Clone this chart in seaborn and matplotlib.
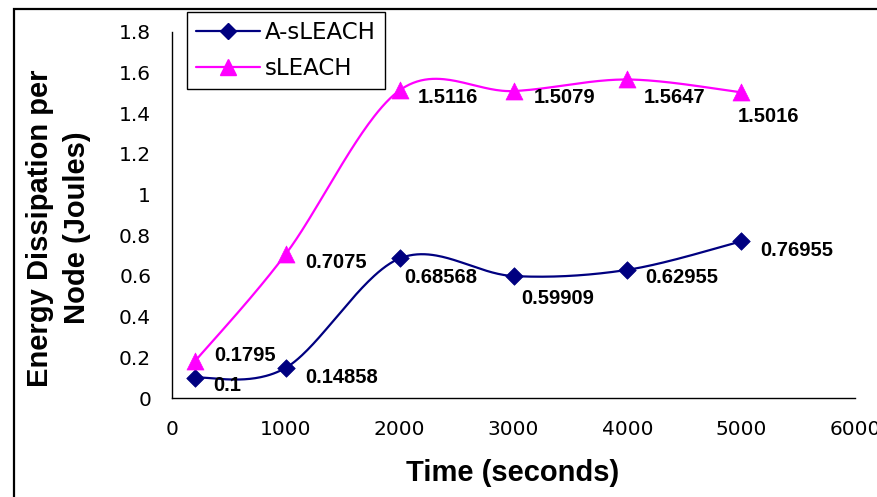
import numpy as np
import pandas as pd
import matplotlib
matplotlib.use("Agg")
import matplotlib.pyplot as plt
import seaborn as sns
from matplotlib.lines import Line2D
from matplotlib.patches import Rectangle

# ---- data ----
time_s = [200, 1000, 2000, 3000, 4000, 5000]
a_sleach = [0.1, 0.14858, 0.68568, 0.59909, 0.62955, 0.76955]
sleach = [0.1795, 0.7075, 1.5116, 1.5079, 1.5647, 1.5016]
a_labels = ["0.1", "0.14858", "0.68568", "0.59909", "0.62955", "0.76955"]
s_labels = ["0.1795", "0.7075", "1.5116", "1.5079", "1.5647", "1.5016"]
series_names = ["A-sLEACH", "sLEACH"]
x_ticks = [0, 1000, 2000, 3000, 4000, 5000, 6000]
y_ticks = [0, 0.2, 0.4, 0.6, 0.8, 1, 1.2, 1.4, 1.6, 1.8]

# label offsets in pixels (dx right, dy down)
a_off = [(18, 8), (19, 10), (5, 19), (8, 22), (18, 8), (19, 9)]
s_off = [(19, -6), (19, 9), (18, 7), (20, 6), (16, 18), (-3, 24)]


def smooth(xs, ys, n=60):
    """Excel-style smoothed line (Catmull-Rom as cubic Bezier)."""
    P = np.column_stack([xs, ys]).astype(float)
    out = []
    m = len(P)
    for i in range(m - 1):
        p0 = P[max(i - 1, 0)]
        p1 = P[i]
        p2 = P[i + 1]
        p3 = P[min(i + 2, m - 1)]
        c1 = p1 + (p2 - p0) / 6.0
        c2 = p2 - (p3 - p1) / 6.0
        t = np.linspace(0, 1, n)[:, None]
        seg = ((1 - t) ** 3) * p1 + 3 * ((1 - t) ** 2) * t * c1 + 3 * (1 - t) * t ** 2 * c2 + t ** 3 * p2
        out.append(seg if i == 0 else seg[1:])
    arr = np.vstack(out)
    return arr[:, 0], arr[:, 1]


sns.set_style("white")
plt.rcParams["font.family"] = ["Liberation Sans", "DejaVu Sans"]
for k in ["text.color", "axes.labelcolor", "xtick.color", "ytick.color", "axes.edgecolor"]:
    plt.rcParams[k] = "black"

fig = plt.figure(figsize=(8.77, 4.97), dpi=100)
ax = fig.add_axes([172 / 877, 1 - 398 / 497, (855 - 172) / 877, (398 - 31.6) / 497])

navy = "#000080"
mag = "#FF00FF"

for ys, col, mk, ms in [(a_sleach, navy, "D", 80), (sleach, mag, "^", 150)]:
    sx, sy = smooth(time_s, ys)
    df = pd.DataFrame({"x": sx, "y": sy})
    sns.lineplot(data=df, x="x", y="y", sort=False, color=col, lw=1.6, ax=ax, zorder=2,
                 estimator=None)
    sns.scatterplot(x=time_s, y=ys, marker=mk, s=ms, color=col, edgecolor=col, linewidth=0.5,
                    ax=ax, zorder=3, clip_on=False)

for vals, labs, offs in [(a_sleach, a_labels, a_off), (sleach, s_labels, s_off)]:
    for x, y, lab, (dx, dy) in zip(time_s, vals, labs, offs):
        ax.annotate(lab, (x, y), xytext=(dx, -dy), textcoords="offset pixels",
                    ha="left", va="center", fontsize=14.5, fontweight="bold", color="black",
                    annotation_clip=False)

ax.set_xlim(0, 6000)
ax.set_ylim(0, 1.8)
ax.set_xticks(x_ticks)
ax.set_yticks(y_ticks)
ax.set_xticklabels([str(v) for v in x_ticks], family="DejaVu Sans")
ax.set_yticklabels([f"{v:g}" for v in y_ticks], family="DejaVu Sans")
ax.tick_params(axis="both", direction="out", length=6, width=1, colors="black", labelsize=14.5)
ax.tick_params(axis="x", pad=10)
ax.tick_params(axis="y", pad=9)
for s in ["top", "right"]:
    ax.spines[s].set_visible(False)
for s in ["left", "bottom"]:
    ax.spines[s].set_color("black")
    ax.spines[s].set_linewidth(1)
ax.set_xlabel("")
ax.set_ylabel("")

fig.text(513 / 877, 1 - 473 / 497, "Time (seconds)", ha="center", va="center",
         fontsize=21, fontweight="bold")
fig.text(40 / 877, 1 - 228 / 497, "Energy Dissipation per", rotation=90, ha="center",
         va="center", fontsize=21, fontweight="bold")
fig.text(77 / 877, 1 - 228 / 497, "Node (Joules)", rotation=90, ha="center",
         va="center", fontsize=21, fontweight="bold")

handles = [
    Line2D([], [], color=navy, lw=1.6, marker="D", markersize=8, markeredgecolor=navy),
    Line2D([], [], color=mag, lw=1.6, marker="^", markersize=12, markeredgecolor=mag),
]
leg = fig.legend(handles, series_names, loc="upper left",
                 bbox_to_anchor=(187 / 877, 1 - 12 / 497), frameon=True,
                 prop={"family": "DejaVu Sans", "size": 16.5},
                 fancybox=False, edgecolor="black", framealpha=1, handlelength=2.8,
                 handletextpad=0.22, labelspacing=0.6, borderpad=0.38, borderaxespad=0)
leg.get_frame().set_linewidth(1)

fig.patches.append(Rectangle((13.5 / 877, -0.2), 2.0, 1.2 - 8.5 / 497, transform=fig.transFigure,
                             fill=False, edgecolor="black", linewidth=1.6, zorder=10))

fig.savefig("out.png", dpi=100)
